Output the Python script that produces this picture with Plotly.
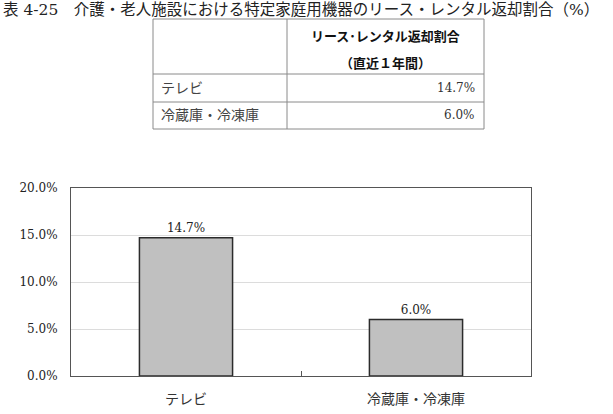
import plotly.graph_objects as go

# ---- data ----
categories = ["テレビ", "冷蔵庫・冷凍庫"]
return_rate = [14.7, 6.0]
table_header = ["", "リース･レンタル返却割合", "（直近１年間）"]
table_rows = ["テレビ", "冷蔵庫・冷凍庫"]
table_values = ["14.7%", "6.0%"]
y_ticks = [0, 5, 10, 15, 20]
y_tick_labels = ["0.0%", "5.0%", "10.0%", "15.0%", "20.0%"]
title_text = "表 4-25　介護・老人施設における特定家庭用機器のリース・レンタル返却割合（%）"

W, H = 613, 414
L, R, T, B = 71, 531, 188, 376  # plot area in pixels

def px(x):
    return (x - L) / (R - L)

def py(y):
    return (B - y) / (B - T)

SERIF = "DejaVu Serif, Noto Sans CJK JP"
JP = "Noto Sans CJK JP"

fig = go.Figure()
fig.add_trace(go.Bar(
    x=categories, y=return_rate,
    marker=dict(color="#c0c0c0", line=dict(color="#2b2b2b", width=1.5)),
    texttemplate="%{y:.1f}%", textposition="outside",
    textfont=dict(family=SERIF, size=12, color="#222"),
    cliponaxis=False,
))

shapes = []
annotations = []

# title
annotations.append(dict(
    text=title_text, xref="paper", yref="paper", x=px(1), y=py(10),
    xanchor="left", yanchor="middle", showarrow=False,
    font=dict(family=SERIF, size=15.5, color="#222"),
))

# table geometry
tx0, tx1, tx2 = 153, 287, 484
ty = [19, 74, 102, 129]
lc = "#8a8a8a"
for yv in ty:
    shapes.append(dict(type="line", xref="paper", yref="paper",
                       x0=px(tx0), x1=px(tx2), y0=py(yv), y1=py(yv),
                       line=dict(color=lc, width=1)))
for xv in (tx0, tx1, tx2):
    shapes.append(dict(type="line", xref="paper", yref="paper",
                       x0=px(xv), x1=px(xv), y0=py(ty[0]), y1=py(ty[-1]),
                       line=dict(color=lc, width=1)))

# header text
annotations.append(dict(
    text="<b>" + table_header[1] + "</b>", xref="paper", yref="paper",
    x=px((tx1 + tx2) / 2), y=py(35), xanchor="center", yanchor="middle",
    showarrow=False, font=dict(family=JP, size=13, color="#111")))
annotations.append(dict(
    text="<b>" + table_header[2] + "</b>", xref="paper", yref="paper",
    x=px((tx1 + tx2) / 2), y=py(62), xanchor="center", yanchor="middle",
    showarrow=False, font=dict(family=JP, size=13, color="#111")))

for i, (lab, val) in enumerate(zip(table_rows, table_values)):
    yc = (ty[i + 1] + ty[i + 2]) / 2
    annotations.append(dict(
        text=lab, xref="paper", yref="paper", x=px(tx0 + 6), y=py(yc),
        xanchor="left", yanchor="middle", showarrow=False,
        font=dict(family=SERIF, size=14, color="#444")))
    annotations.append(dict(
        text=val, xref="paper", yref="paper", x=px(tx2 - 7), y=py(yc),
        xanchor="right", yanchor="middle", showarrow=False,
        font=dict(family=SERIF, size=12, color="#333")))

fig.update_layout(
    width=W, height=H,
    margin=dict(l=L, r=W - R, t=T, b=H - B, pad=0, autoexpand=False),
    paper_bgcolor="white", plot_bgcolor="white",
    showlegend=False, bargap=0.595,
    shapes=shapes, annotations=annotations,
    xaxis=dict(
        automargin=False,
        showline=True, mirror=True, linecolor="#555", linewidth=1,
        ticks="inside", tickson="boundaries", ticklen=5, tickcolor="#555",
        tickfont=dict(family=JP, size=14, color="#333"),
        ticklabelstandoff=10, showgrid=False,
    ),
    yaxis=dict(
        automargin=False,
        range=[0, 20], tickmode="array", tickvals=y_ticks, ticktext=y_tick_labels,
        showline=True, mirror=True, linecolor="#555", linewidth=1,
        gridcolor="#dcdcdc", gridwidth=1, ticks="", zeroline=False,
        tickfont=dict(family=SERIF, size=12, color="#222"),
        ticklabelstandoff=10,
    ),
)

fig.write_html("out.html")
